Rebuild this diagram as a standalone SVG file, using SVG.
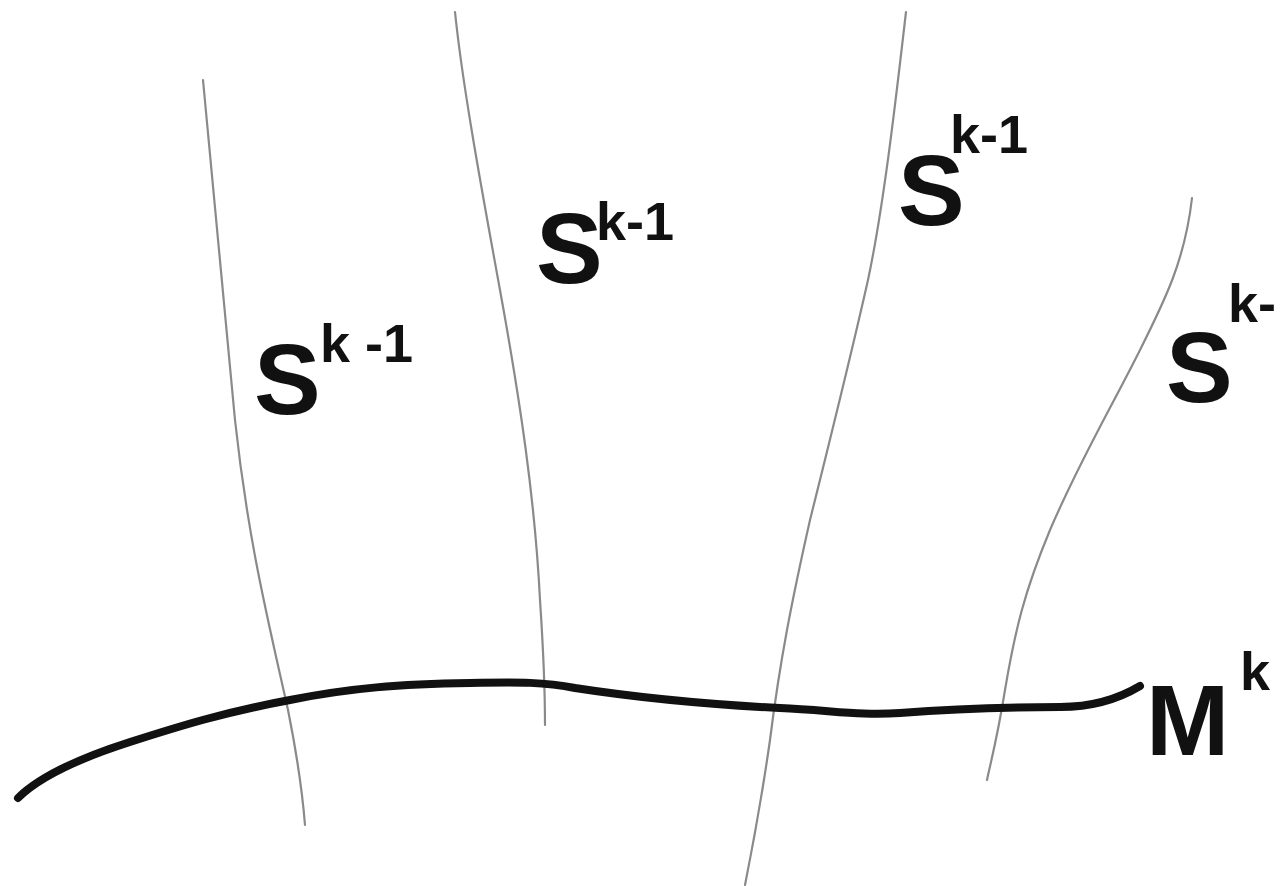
<svg xmlns="http://www.w3.org/2000/svg" width="1287" height="886" viewBox="0 0 1287 886">
<style>
.fib{fill:none;stroke:#8a8a8a;stroke-width:2.2;stroke-linecap:round;stroke-linejoin:round}
.man{fill:none;stroke:#111;stroke-width:8;stroke-linecap:round;stroke-linejoin:round}
.big{font-family:"Liberation Sans Narrow","Liberation Sans",Arial,sans-serif;font-size:100px;font-weight:bold;fill:#111}
.sup{font-family:"Liberation Sans",Arial,sans-serif;font-size:54px;font-weight:bold}
</style>
<rect width="1287" height="886" fill="#fff"/>
<g id="connectors">
<path class="fib" d="M203,80 C210,150 220,260 235,420 C248,540 268,620 288,710 C298,760 303,800 305,825"/>
<path class="fib" d="M455,12 C462,80 478,170 500,290 C520,400 535,500 540,600 C544,660 545,700 545,725"/>
<path class="fib" d="M906,12 C898,80 885,200 868,280 C850,360 830,440 810,520 C792,600 780,660 770,740 C760,810 750,860 745,885"/>
<path class="fib" d="M1192,198 C1185,260 1165,300 1140,350 C1110,410 1080,460 1050,530 C1025,590 1015,630 1005,690 C997,740 990,765 987,780"/>
</g>
<g id="M">
<path class="man" d="M18,798 C40,776 80,758 130,742 C180,726 225,712 290,700 C350,688 400,684 470,683 C520,682 545,682 575,688 C640,698 700,704 780,708 C830,710 860,716 900,713 C950,709 1000,707 1060,707 C1100,707 1125,695 1140,686"/>
<text class="big" x="1146" y="755" font-size="104">M<tspan class="sup" x="1240" y="690">k</tspan></text>
</g>
<g id="S1">
<text class="big" x="254" y="414">S<tspan class="sup" x="320" y="362">k -1</tspan></text>
</g>
<g id="S2">
<text class="big" x="536" y="283">S<tspan class="sup" x="596" y="240">k-1</tspan></text>
</g>
<g id="S3">
<text class="big" x="898" y="225" font-size="112">S<tspan class="sup" x="950" y="153">k-1</tspan></text>
</g>
<g id="S4">
<text class="big" x="1166" y="402">S<tspan class="sup" x="1228" y="322">k-</tspan></text>
</g>
</svg>
